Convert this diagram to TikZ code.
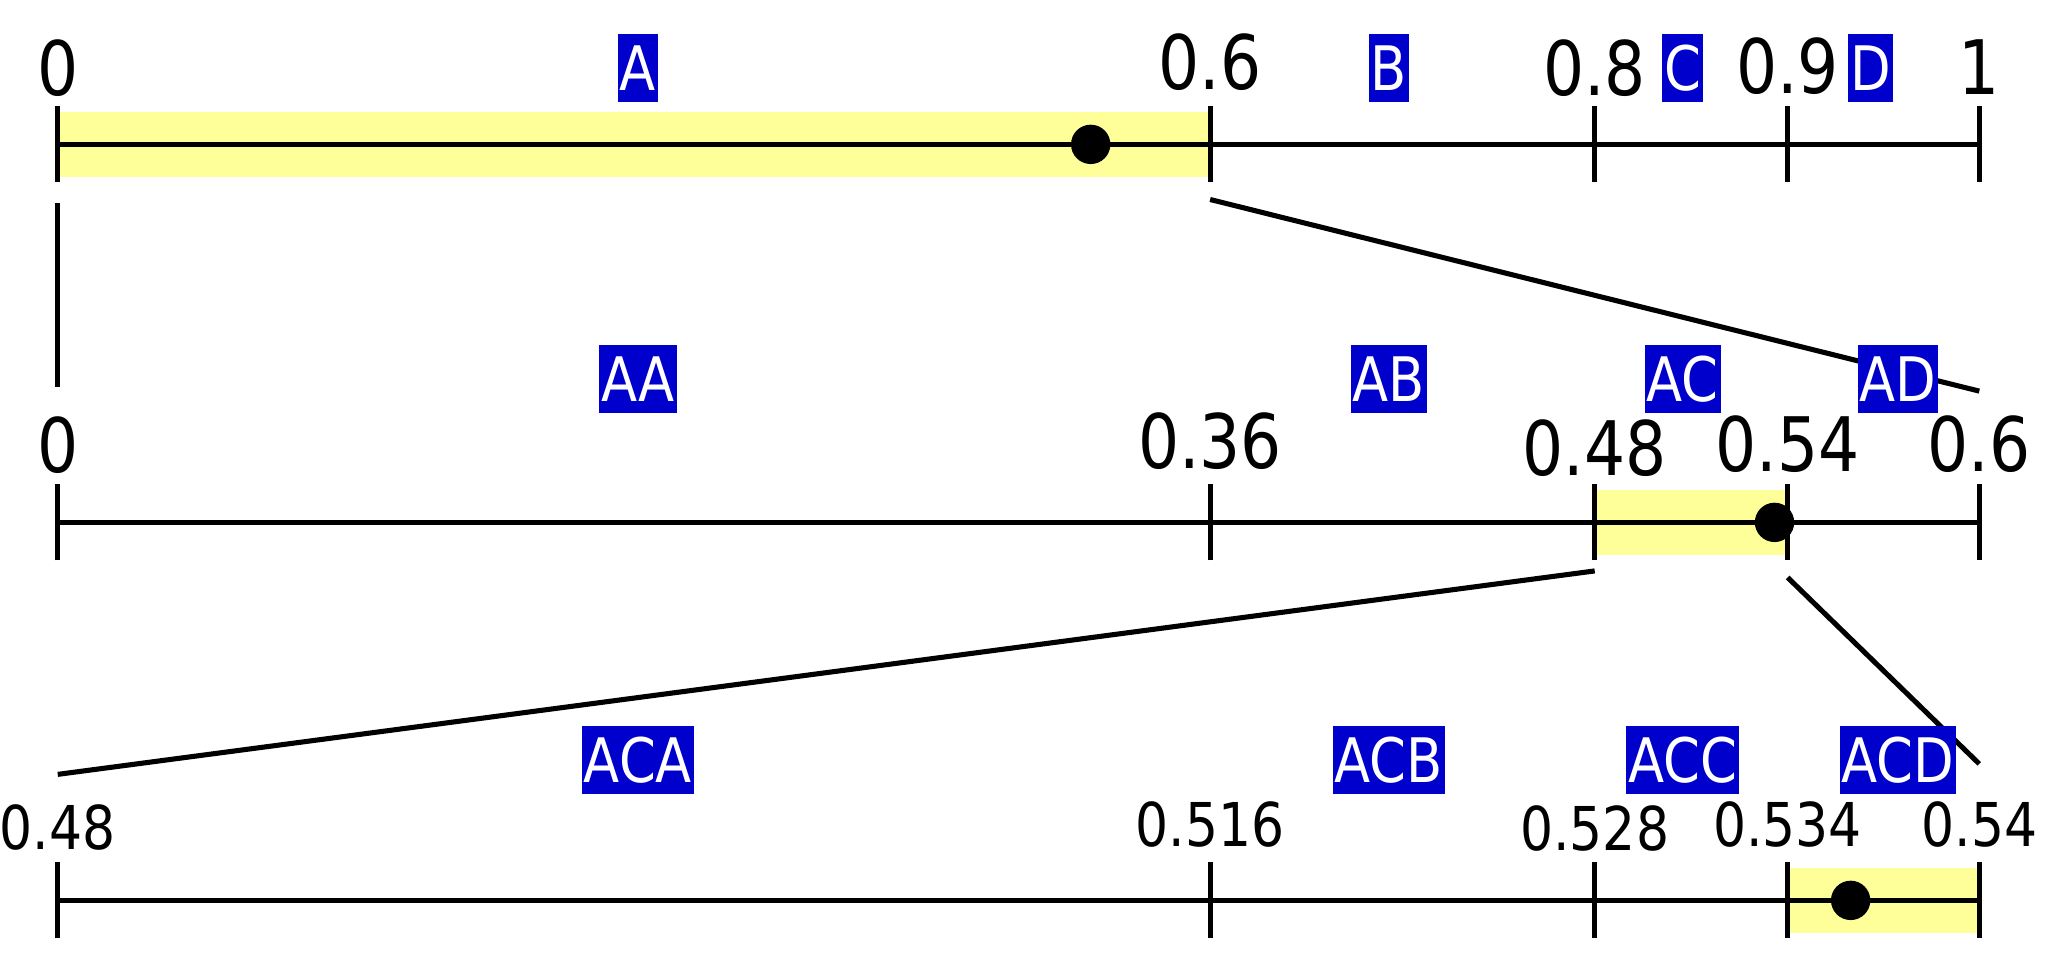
\documentclass[tikz,border=0pt]{standalone}
\usepackage{fontspec}
\setmainfont{DejaVu Sans}[FakeStretch=0.86]
\definecolor{hlyellow}{HTML}{FFFF99}
\definecolor{tagblue}{HTML}{0000CC}
\tikzset{
  axis/.style={line width=1.1pt},
  zoomline/.style={line width=1.1pt},
  tag/.style={fill=tagblue,text=white,font=\fontsize{13.3}{13.3}\selectfont,
    inner xsep=0.4pt,inner ysep=0pt,minimum height=0.52cm},
  num/.style={anchor=base,inner sep=0pt,font=\fontsize{16.3}{17}\selectfont},
  smallnum/.style={anchor=base,inner sep=0pt,font=\fontsize{13.1}{14}\selectfont},
  pt/.style={fill=black,circle,inner sep=0pt,minimum size=0.30cm},
}
\begin{document}
\begin{tikzpicture}
  \useasboundingbox (0,0) rectangle (15.68,7.42);
  % 目盛りのx座標 (共通)
  \def\xa{0.44} \def\xb{9.22} \def\xc{12.15} \def\xd{13.62} \def\xe{15.08}
  \def\h{0.29}
  % 1段目: [0,1]
  \fill[hlyellow] (\xa,6.07) rectangle (\xb,6.57);
  \draw[axis] (\xa,6.32) -- (\xe,6.32);
  \foreach \x in {\xa,\xb,\xc,\xd,\xe} \draw[axis] (\x,6.32-\h) -- (\x,6.32+\h);
  \node[pt] (p1) at (8.31,6.32) {};
  \node[num] (n1a) at (\xa,6.69) {0};
  \node[num] (n1b) at (\xb,6.74) {0.6};
  \node[num] (n1c) at (\xc,6.69) {0.8};
  \node[num] (n1d) at (\xd,6.71) {0.9};
  \node[num] (n1e) at (\xe,6.70) {1};
  \node[tag] (tA) at (4.86,6.90) {A};
  \node[tag] (tB) at (10.58,6.90) {B};
  \node[tag] (tC) at (12.82,6.90) {C};
  \node[tag] (tD) at (14.25,6.90) {D};
  % 1段目 -> 2段目
  \coordinate (z1a) at (\xa,5.87);
  \coordinate (z1b) at (\xb,5.90);
  \coordinate (z2a) at (\xa,4.47);
  \coordinate (z2e) at (\xe,4.44);
  \draw[zoomline] (z1a) -- (z2a);
  \draw[zoomline] (z1b) -- (z2e);
  % 2段目: [0,0.6]
  \fill[hlyellow] (\xc,3.19) rectangle (\xd,3.69);
  \draw[axis] (\xa,3.44) -- (\xe,3.44);
  \foreach \x in {\xa,\xb,\xc,\xd,\xe} \draw[axis] (\x,3.44-\h) -- (\x,3.44+\h);
  \node[pt] (p2) at (13.52,3.44) {};
  \node[num] (n2a) at (\xa,3.82) {0};
  \node[num] (n2b) at (\xb,3.85) {0.36};
  \node[num] (n2c) at (\xc,3.80) {0.48};
  \node[num] (n2d) at (\xd,3.83) {0.54};
  \node[num] (n2e) at (\xe,3.83) {0.6};
  \node[tag] (tAA) at (4.86,4.53) {AA};
  \node[tag] (tAB) at (10.58,4.53) {AB};
  \node[tag] (tAC) at (12.82,4.53) {AC};
  \node[tag] (tAD) at (14.46,4.53) {AD};
  % 2段目 -> 3段目
  \coordinate (z3c) at (\xc,3.07);
  \coordinate (z3d) at (\xd,3.02);
  \coordinate (z4a) at (\xa,1.52);
  \coordinate (z4e) at (\xe,1.60);
  \draw[zoomline] (z3c) -- (z4a);
  \draw[zoomline] (z3d) -- (z4e);
  % 3段目: [0.48,0.54]
  \fill[hlyellow] (\xd,0.31) rectangle (\xe,0.81);
  \draw[axis] (\xa,0.56) -- (\xe,0.56);
  \foreach \x in {\xa,\xb,\xc,\xd,\xe} \draw[axis] (\x,0.56-\h) -- (\x,0.56+\h);
  \node[pt] (p3) at (14.10,0.56) {};
  \node[smallnum] (n3a) at (\xa,0.95) {0.48};
  \node[smallnum] (n3b) at (\xb,0.97) {0.516};
  \node[smallnum] (n3c) at (\xc,0.94) {0.528};
  \node[smallnum] (n3d) at (\xd,0.97) {0.534};
  \node[smallnum] (n3e) at (\xe,0.97) {0.54};
  \node[tag] (tACA) at (4.86,1.63) {ACA};
  \node[tag] (tACB) at (10.58,1.63) {ACB};
  \node[tag] (tACC) at (12.82,1.63) {ACC};
  \node[tag] (tACD) at (14.46,1.63) {ACD};
\end{tikzpicture}
\end{document}
